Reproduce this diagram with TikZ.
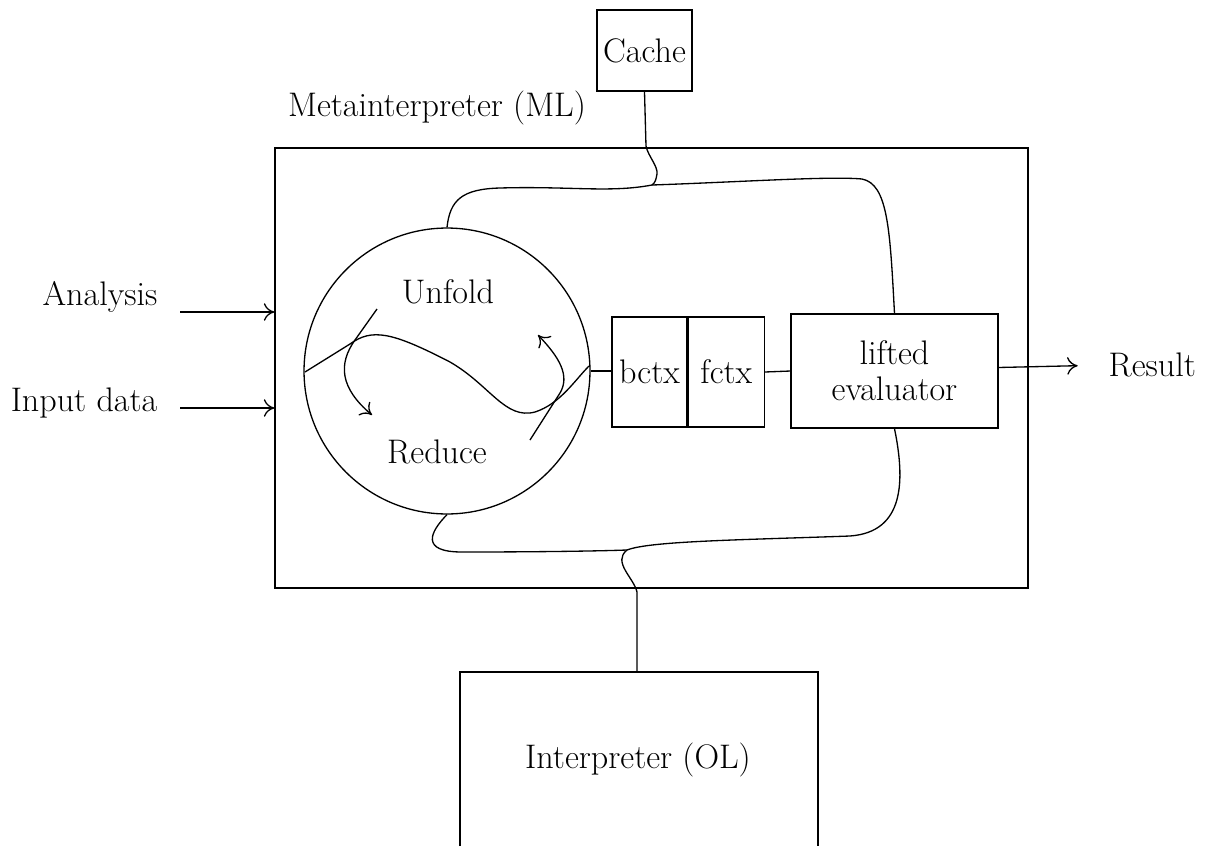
\documentclass[tikz,border=0pt]{standalone}
\usepackage{fontspec}
\usetikzlibrary{arrows.meta}
\begin{document}
\begin{tikzpicture}[x=0.02cm,y=-0.02cm, line width=0.75pt,
  every node/.style={font=\fontsize{19.4}{20.5}\selectfont},
  box/.style={draw, rectangle, inner sep=0pt, align=center},
  tip/.style={-{To[length=6pt,width=10pt]}}]
\useasboundingbox (0,0) rectangle (1208,846);

% nodes
\node[box, minimum width=1.9cm, minimum height=1.62cm] (cache) at (644.5,50.5) {Cache};
\node (mlabel) at (437,108) {Metainterpreter (ML)};
\node[box, minimum width=15.06cm, minimum height=8.8cm] (meta) at (651.5,368) {};
\node[draw, circle, minimum size=5.72cm, inner sep=0pt] (circ) at (447,371) {};
\node (unfold) at (448,292) {Unfold};
\node (reduce) at (437,452) {Reduce};
\node[box, minimum width=1.5cm, minimum height=2.2cm] (bctx) at (649.5,372) {bctx};
\node[box, minimum width=1.52cm, minimum height=2.2cm, anchor=west] (fctx) at (bctx.east) {fctx};
\node[box, minimum width=4.14cm, minimum height=2.28cm] (lifted) at (894.5,371) {lifted\\evaluator};
\node[anchor=west, inner sep=0pt] (res) at (1108,365) {Result};
\node[anchor=east, inner sep=0pt] (analysis) at (158,297) {Analysis};
\node[anchor=east, inner sep=0pt] (input) at (158,403) {Input data};
\node (interp) at (638,760) {Interpreter (OL)};

% interpreter box (open at the bottom)
\coordinate (itl) at (460,672);
\coordinate (itr) at (818,672);
\coordinate (itop) at (637,672);
\draw (460,846) -- (itl) -- (itr) -- (818,846);

% junctions
\coordinate (J1) at (652,185);
\coordinate (J2) at (627,550);

% left inputs
\coordinate (a1) at (180,312);
\coordinate (a2) at (180,408);
\draw[tip] (a1) -- (a1 -| meta.west);
\draw[tip] (a2) -- (a2 -| meta.west);

% result
\draw[tip, shorten >=23\pgflinewidth] ([yshift=2pt]lifted.east) -- (res.west);

% straight links
\draw (circ.east) -- (bctx.west |- circ.east);
\draw (fctx.east) -- (lifted.west);

% cache link and top wiring
\draw (cache.south) -- (646,146) .. controls (648,156) and (658,166) .. (657,174) .. controls (656,180) and (655,183) .. (J1);
\draw (J1) .. controls (610,193) and (570,186) .. (500,188) .. controls (462,189) and (450,200) .. (circ.north);
\draw (J1) .. controls (740,182) and (830,176) .. (862,179) .. controls (888,184) and (890,230) .. (lifted.north);

% bottom wiring
\draw (circ.south) .. controls (430,532) and (420,552) .. (462,552) .. controls (540,552) and (600,551) .. (J2);
\draw (J2) .. controls (650,541) and (740,540) .. (850,536) .. controls (905,532) and (905,480) .. (lifted.south);
\draw (J2) .. controls (612,562) and (634,578) .. (637,592) -- (itop);

% inside the circle
\draw (305,372) -- (350,344) .. controls (372,328) and (392,332) .. (450,362) .. controls (490,385) and (505,420) .. (535,412) .. controls (560,404) and (575,380) .. (589,366);
\draw[tip] (377,309) -- (355,340) .. controls (338,364) and (340,388) .. (372,415);
\draw[tip] (530,440) -- (560,393) .. controls (570,376) and (560,358) .. (538,335);
\end{tikzpicture}
\end{document}
